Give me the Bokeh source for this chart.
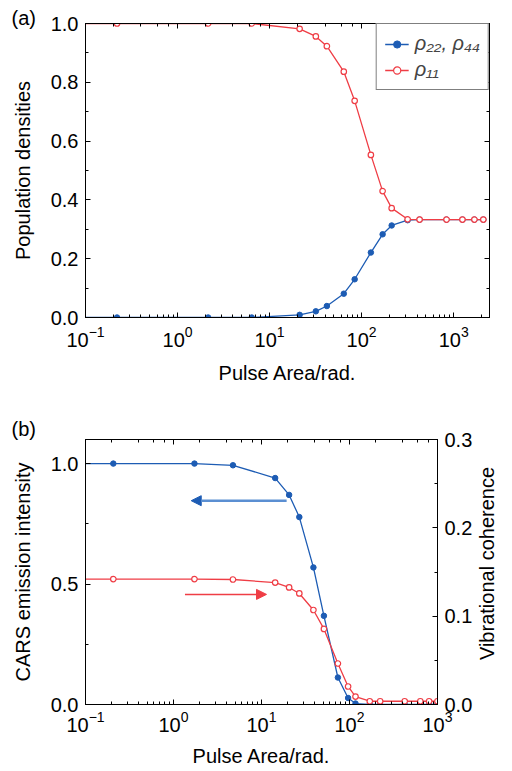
import math
from bokeh.plotting import figure
from bokeh.models import (LogAxis, LinearAxis, Range1d, Legend, LegendItem, Title,
                          Arrow, NormalHead, CustomJSTickFormatter, SingleIntervalTicker,
                          FixedTicker, LogTicker, NumeralTickFormatter)
from bokeh.embed import file_html
from bokeh.resources import INLINE

FONT = "Liberation Sans"
BLUE = "#1d5cb4"
BLUE_LIGHT = "#5b8fd2"
RED = "#ef3d45"

# ---------------- data, panel (a) ----------------
area_a = [0.05, 0.22, 2.15, 6.4, 21.2, 31.8, 41.9, 64, 84, 126, 169, 212, 316, 426,
          836, 1245, 1680, 2100]
rho22 = [0.0, 0.0, 0.0, 0.0, 0.009, 0.021, 0.039, 0.081, 0.130, 0.221, 0.283, 0.313,
         0.331, 0.333, 0.333, 0.333, 0.333, 0.333]
rho11 = [1.0, 1.0, 1.0, 1.0, 0.982, 0.956, 0.923, 0.836, 0.737, 0.553, 0.430, 0.372,
         0.334, 0.333, 0.333, 0.333, 0.333, 0.333]

# ---------------- data, panel (b) ----------------
area_b = [0.05, 0.207, 1.73, 4.74, 14.3, 20.6, 26.9, 38.9, 51.2, 73.8, 96.4, 117,
          170, 223, 424, 638, 803, 998]
cars = [1.0, 1.0, 1.0, 0.993, 0.940, 0.870, 0.778, 0.569, 0.368, 0.112, 0.027, 0.004,
        0.0, 0.0, 0.0, 0.0, 0.0, 0.0]
vib = [0.142, 0.142, 0.142, 0.1415, 0.138, 0.1325, 0.1257, 0.107, 0.0856, 0.0464,
       0.0204, 0.009, 0.0037, 0.0037, 0.0037, 0.0037, 0.0037, 0.0037]

vib_ticks = [0.0, 0.1, 0.2, 0.3]
vib_minor = [0.05, 0.15, 0.25]


def style_axis(ax, label_size="20px", standoff=7):
    ax.major_tick_in = 5
    ax.major_tick_out = 0
    ax.minor_tick_in = 3
    ax.minor_tick_out = 0
    ax.axis_line_color = "black"
    ax.major_tick_line_color = "black"
    ax.minor_tick_line_color = "black"
    ax.major_label_text_font = FONT
    ax.major_label_text_font_size = label_size
    ax.major_label_text_color = "black"
    ax.major_label_standoff = standoff
    ax.axis_label_text_font = FONT
    ax.axis_label_text_font_size = "20px"
    ax.axis_label_text_font_style = "normal"
    ax.axis_label_text_color = "black"


def blank_axis(ax):
    style_axis(ax, label_size="1px", standoff=0)
    ax.formatter = CustomJSTickFormatter(code="return ''")


# ---------------- panel (a) ----------------
p1 = figure(width=512, height=395, x_axis_type="log",
            x_range=Range1d(0.1, 2450), y_range=Range1d(0, 1.0),
            output_backend="svg", toolbar_location=None,
            min_border_left=85, min_border_right=23, min_border_top=23,
            min_border_bottom=78)
p1.grid.visible = False
p1.outline_line_color = "black"

p1.yaxis.ticker = SingleIntervalTicker(interval=0.2, num_minor_ticks=2)
p1.yaxis.formatter = NumeralTickFormatter(format="0.0")
p1.xaxis.axis_label = "Pulse Area/rad."
p1.yaxis.axis_label = "Population densities"
for ax in p1.xaxis:
    style_axis(ax, standoff=8)
    ax.axis_label_standoff = 12
for ax in p1.yaxis:
    style_axis(ax, standoff=7)
    ax.axis_label_standoff = 14

top1 = LogAxis(ticker=LogTicker())
blank_axis(top1)
p1.add_layout(top1, "above")
right1 = LinearAxis(ticker=SingleIntervalTicker(interval=0.2, num_minor_ticks=2))
blank_axis(right1)
p1.add_layout(right1, "right")

p1.add_layout(Title(text="(a)", align="left", offset=-74, standoff=-10,
                    text_font=FONT, text_font_size="20px", text_font_style="normal",
                    text_color="black"), "above")

lb = p1.line(area_a, rho22, line_color=BLUE, line_width=1.3)
sb = p1.scatter(area_a[1:], rho22[1:], size=5.5, fill_color=BLUE, line_color=BLUE)
lr = p1.line(area_a, rho11, line_color=RED, line_width=1.3)
sr = p1.scatter(area_a[1:], rho11[1:], size=5.5, fill_color="white", line_color=RED,
                line_width=1.2)

legend = Legend(items=[LegendItem(label="ρ₂₂, ρ₄₄", renderers=[lb, sb]),
                       LegendItem(label="ρ₁₁", renderers=[lr, sr])],
                location="top_right", margin=0, padding=8, spacing=3,
                glyph_width=24, glyph_height=18, label_standoff=6,
                border_line_color="black", border_line_width=1,
                label_text_font=FONT, label_text_font_size="20px",
                label_text_font_style="italic", background_fill_alpha=1.0)
p1.add_layout(legend)

# ---------------- panel (b) ----------------
p2 = figure(width=512, height=376, x_axis_type="log",
            x_range=Range1d(0.1, 1000), y_range=Range1d(0, 1.1),
            output_backend="svg", toolbar_location=None,
            min_border_left=85, min_border_right=68, min_border_top=44,
            min_border_bottom=67)
p2.grid.visible = False
p2.outline_line_color = "black"
p2.extra_y_ranges = {"vib": Range1d(0, 0.3)}

p2.yaxis.ticker = SingleIntervalTicker(interval=0.5, num_minor_ticks=2)
p2.yaxis.formatter = NumeralTickFormatter(format="0.0")
p2.xaxis.axis_label = "Pulse Area/rad."
p2.yaxis.axis_label = "CARS emission intensity"
for ax in p2.xaxis:
    style_axis(ax, standoff=6)
    ax.axis_label_standoff = 10
for ax in p2.yaxis:
    style_axis(ax, standoff=7)
    ax.axis_label_standoff = 14

right_title = "Vibrational coherence"
right2 = LinearAxis(y_range_name="vib",
                    ticker=FixedTicker(ticks=vib_ticks, minor_ticks=vib_minor),
                    formatter=NumeralTickFormatter(format="0.0"))
style_axis(right2, standoff=7)
right2.axis_label_standoff = 12
props = right2.properties()
if "axis_label_orientation" in props and "axis_label_align" in props:
    # read bottom-up like the reference; anchor at the bottom end, padded upwards
    right2.axis_label_orientation = math.pi / 2
    right2.axis_label_align = "start"
    right2.axis_label = "\u00a0" * 8 + right_title
else:
    right2.axis_label = right_title
p2.add_layout(right2, "right")

top2 = LogAxis(ticker=LogTicker())
blank_axis(top2)
p2.add_layout(top2, "above")

p2.add_layout(Title(text="(b)", align="left", offset=-74, standoff=0,
                    text_font=FONT, text_font_size="20px", text_font_style="normal",
                    text_color="black"), "above")

p2.line(area_b, cars, line_color=BLUE, line_width=1.3)
p2.scatter(area_b[1:], cars[1:], size=5.5, fill_color=BLUE, line_color=BLUE)
p2.line(area_b, vib, line_color=RED, line_width=1.3, y_range_name="vib")
p2.scatter(area_b[1:], vib[1:], size=5.5, fill_color="white", line_color=RED,
           line_width=1.2, y_range_name="vib")

# arrows pointing to the axis each curve belongs to
p2.add_layout(Arrow(end=NormalHead(size=10, fill_color=BLUE, line_color=BLUE),
                    x_start=19.3, y_start=0.846, x_end=1.59, y_end=0.846,
                    line_color=BLUE_LIGHT, line_width=2.5))
p2.add_layout(Arrow(end=NormalHead(size=10, fill_color=RED, line_color=RED),
                    x_start=1.35, y_start=0.457, x_end=11.4, y_end=0.457,
                    line_color=RED, line_width=1.5))

open("out.html", "w").write(file_html([p1, p2], INLINE))
